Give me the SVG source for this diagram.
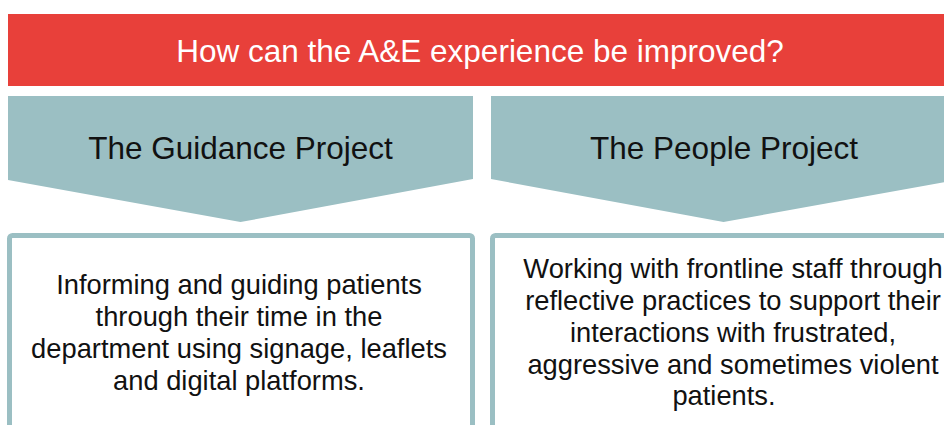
<svg xmlns="http://www.w3.org/2000/svg" width="944" height="425" viewBox="0 0 944 425">
<style>
.banner{fill:#E8403A}
.chev{fill:#9BBFC3}
.box{fill:#FFFFFF;stroke:#9BBFC3;stroke-width:5}
.title{font-family:"Liberation Sans",Arial,sans-serif;font-size:31.5px;fill:#FFFFFF;text-anchor:middle}
.head{font-family:"Liberation Sans",Arial,sans-serif;font-size:31.5px;fill:#111111;text-anchor:middle}
.body{font-family:"Liberation Sans",Arial,sans-serif;font-size:27.3px;fill:#111111;text-anchor:middle}
</style>
<rect width="944" height="425" fill="#FFFFFF"/>
<g id="question">
<rect class="banner" x="8" y="14" width="950" height="72"/>
<text class="title" x="480" y="62">How can the A&amp;E experience be improved?</text>
</g>
<g id="guidance-header">
<polygon class="chev" points="8,96 473,96 473,179 240.5,222 8,180"/>
<text class="head" x="240.5" y="159">The Guidance Project</text>
</g>
<g id="people-header">
<polygon class="chev" points="491,96 956,96 956,180 723.5,222 491,179"/>
<text class="head" x="724" y="159">The People Project</text>
</g>
<g id="guidance-box">
<rect class="box" x="9.5" y="235.5" width="463" height="220" rx="3"/>
<text class="body" x="239" y="294">Informing and guiding patients</text>
<text class="body" x="239" y="326">through their time in the</text>
<text class="body" x="239" y="358">department using signage, leaflets</text>
<text class="body" x="239" y="390">and digital platforms.</text>
</g>
<g id="people-box">
<rect class="box" x="492.5" y="235.5" width="463" height="220" rx="3"/>
<text class="body" x="733" y="278">Working with frontline staff through</text>
<text class="body" x="733" y="310">reflective practices to support their</text>
<text class="body" x="733" y="342">interactions with frustrated,</text>
<text class="body" x="733" y="374">aggressive and sometimes violent</text>
<text class="body" x="724" y="405">patients.</text>
</g>
<g id="connectors"></g>
</svg>
